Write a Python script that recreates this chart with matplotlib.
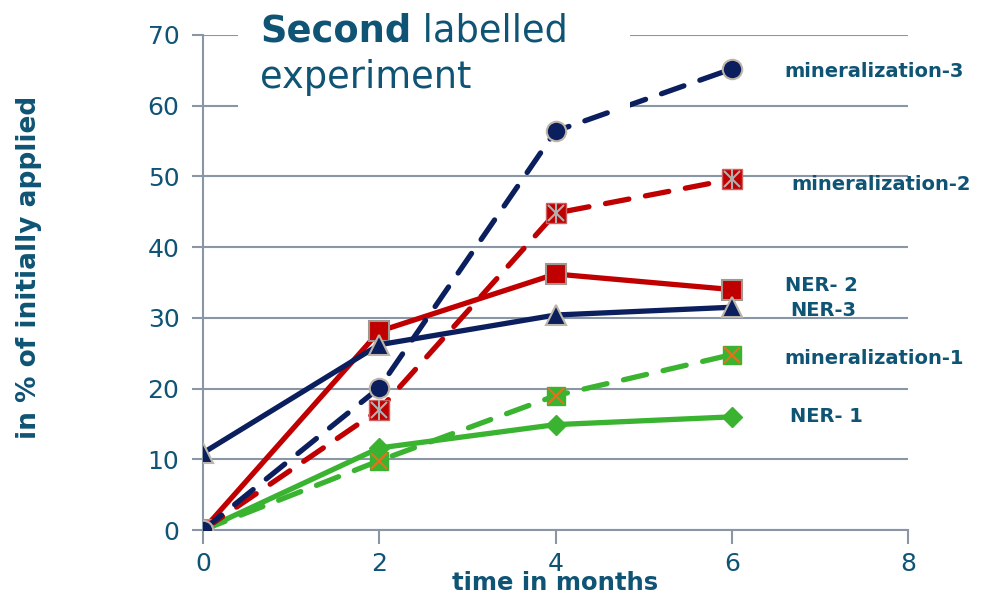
import matplotlib
matplotlib.use('Agg')
import matplotlib.pyplot as plt
from matplotlib.patches import Rectangle

# data
months = [0, 2, 4, 6]
mineralization_3 = [0, 20.1, 56.4, 65.2]
mineralization_2 = [0, 17.0, 44.8, 49.6]
ner_2 = [0, 28.1, 36.2, 34.0]
ner_3 = [10.9, 26.2, 30.4, 31.5]
mineralization_1 = [0, 9.8, 19.0, 24.8]
ner_1 = [0, 11.6, 14.9, 16.0]

series_labels = ['mineralization-3', 'mineralization-2', 'NER- 2', 'NER-3',
                 'mineralization-1', 'NER- 1']
label_pos = [(6.60, 64.8), (6.68, 48.9), (6.60, 34.6), (6.66, 31.1),
             (6.60, 24.3), (6.66, 16.1)]

x_ticks = [0, 2, 4, 6, 8]
y_ticks = [0, 10, 20, 30, 40, 50, 60, 70]

NAVY = '#0b1f5e'
RED = '#c00000'
GREEN = '#3ab331'
TXT = '#0f5474'
GRID = '#8a96a6'
EDGE = '#bdb5a8'

fig = plt.figure(figsize=(9.81, 5.97), dpi=100)
ax = fig.add_axes([203 / 981, 67 / 597, 705 / 981, 495 / 597])

lw = 3.8
dash = (4.5, 3.2)
dkw = dict(dash_capstyle='round', solid_capstyle='round')

ax.plot(months, ner_1, color=GREEN, lw=lw, marker='D', ms=10,
        mfc=GREEN, mec=GREEN, zorder=3, **dkw)
ax.plot(months, mineralization_1, color=GREEN, lw=lw, ls=(0, dash),
        marker='s', ms=13, mfc=GREEN, mec=GREEN, zorder=3, **dkw)
ax.plot(months, mineralization_1, ls='none', marker='x', ms=12,
        mec='#e8701a', mew=1.5, zorder=3.1)
ax.plot(months, ner_3, color=NAVY, lw=lw, marker='^', ms=14,
        mfc=NAVY, mec=EDGE, mew=1.5, zorder=4, **dkw)
ax.plot(months, ner_2, color=RED, lw=lw, marker='s', ms=14,
        mfc=RED, mec='#a09890', mew=1.5, zorder=3.5, **dkw)
ax.plot(months, mineralization_2, color=RED, lw=lw, ls=(0, dash),
        marker='s', ms=14, mfc=RED, mec='#d06060', mew=1, zorder=4.5, **dkw)
ax.plot(months, mineralization_2, ls='none', marker='x', ms=12,
        mec='#b0b0b0', mew=1.5, zorder=4.6)
ax.plot(months, mineralization_2, ls='none', marker='|', ms=14,
        mec='#b0b0b0', mew=1.5, zorder=4.6)
ax.plot(months, mineralization_3, color=NAVY, lw=lw, ls=(0, dash),
        marker='o', ms=14, mfc=NAVY, mec=EDGE, mew=1.5, zorder=5, **dkw)

ax.set_xlim(0, 8)
ax.set_ylim(0, 70)
ax.set_xticks(x_ticks)
ax.set_yticks(y_ticks)
ax.grid(axis='y', color=GRID, lw=1.5)
ax.set_axisbelow(True)
for side in ['top', 'right']:
    ax.spines[side].set_visible(False)
for side in ['left', 'bottom']:
    ax.spines[side].set_color(GRID)
    ax.spines[side].set_linewidth(1.5)
ax.tick_params(axis='y', length=8, width=1.5, color=GRID, pad=9,
               labelsize=18, labelcolor=TXT)
ax.tick_params(axis='x', length=10, width=1.5, color=GRID, pad=6,
               labelsize=18, labelcolor=TXT)

ax.set_xlabel('time in months', fontsize=17.5, fontweight='bold', color=TXT)
ax.xaxis.set_label_coords(0.5, -0.082)
ax.set_ylabel('in % of initially applied', fontsize=19, fontweight='bold',
              color=TXT)
ax.yaxis.set_label_coords(-0.228, 0.53)

for lab, (lx, ly) in zip(series_labels, label_pos):
    ax.text(lx, ly, lab, fontsize=14, fontweight='bold', color=TXT,
            va='center', ha='left', clip_on=False)

# white title box that hides the grid behind it
fig.patches.append(Rectangle((238 / 981, 487 / 597), 392 / 981, 110 / 597,
                             transform=fig.transFigure, facecolor='white',
                             edgecolor='none', zorder=10))
t1 = fig.text(260 / 981, 1 - 42 / 597, 'Second', fontsize=26.5,
              fontweight='bold', color=TXT, va='baseline', zorder=11)
fig.canvas.draw()
bb = t1.get_window_extent()
fig.text(bb.x1 / 981, 1 - 42 / 597, ' labelled', fontsize=26.5, color=TXT,
         va='baseline', zorder=11)
fig.text(260 / 981, 1 - 88 / 597, 'experiment', fontsize=26.5, color=TXT,
         va='baseline', zorder=11)

plt.savefig('out.png', dpi=100)
